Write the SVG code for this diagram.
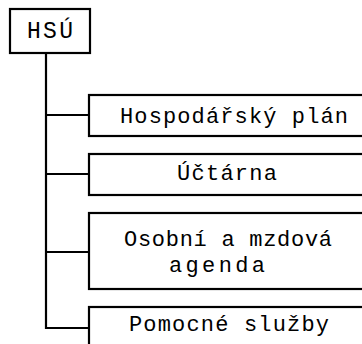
<svg xmlns="http://www.w3.org/2000/svg" width="362" height="344" viewBox="0 0 362 344">
<style>
.box{fill:#fff;stroke:#000;stroke-width:2.2}
.ln{fill:none;stroke:#000;stroke-width:2.2}
text{font-family:"Liberation Mono","DejaVu Sans Mono",monospace;font-size:22px;fill:#000}
</style>
<rect width="362" height="344" fill="#fff"/>
<g id="connectors">
<path class="ln" d="M46,53 V328 H89 M46,115 H89 M46,174 H89 M46,252 H89"/>
</g>
<g id="hsu">
<rect class="box" x="10" y="9" width="80" height="44"/>
<text x="27" y="38" textLength="46" lengthAdjust="spacing" style="font-size:23px">HSÚ</text>
</g>
<g id="hospodarsky-plan">
<rect class="box" x="89" y="95" width="290" height="41"/>
<text x="120" y="123" textLength="228" lengthAdjust="spacing">Hospodářský plán</text>
</g>
<g id="uctarna">
<rect class="box" x="89" y="154" width="290" height="41"/>
<text x="177" y="180" textLength="100" lengthAdjust="spacing">Účtárna</text>
</g>
<g id="osobni">
<rect class="box" x="89" y="213" width="290" height="76"/>
<text x="124" y="246" textLength="208" lengthAdjust="spacing">Osobní a mzdová</text>
<text x="169" y="272" textLength="96" lengthAdjust="spacing">agenda</text>
</g>
<g id="pomocne">
<rect class="box" x="89" y="307" width="290" height="50"/>
<text x="129" y="331" textLength="200" lengthAdjust="spacing">Pomocné služby</text>
</g>
</svg>
